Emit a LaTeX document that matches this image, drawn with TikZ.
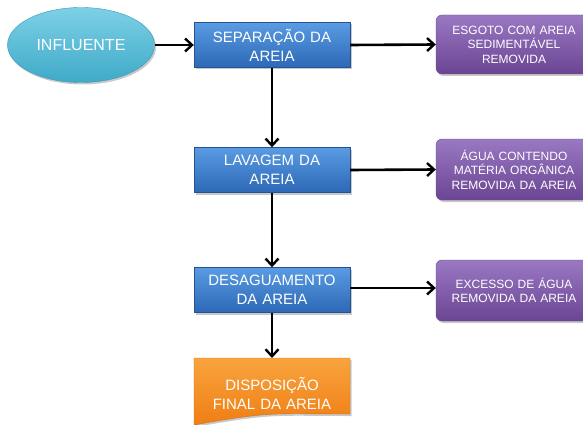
\documentclass[tikz,border=0pt]{standalone}
\usepackage{fontspec}
\setmainfont{Liberation Sans}
\usetikzlibrary{arrows.meta,shadows,shapes.geometric}
\definecolor{cyanTop}{HTML}{7DD0E6}
\definecolor{cyanBot}{HTML}{3FAAC8}
\definecolor{blueTop}{HTML}{5A9BE3}
\definecolor{blueBot}{HTML}{2C68B5}
\definecolor{purpTop}{HTML}{9A78C2}
\definecolor{purpBot}{HTML}{6A4593}
\definecolor{orTop}{HTML}{FAA43E}
\definecolor{orBot}{HTML}{EE7E14}
\tikzset{
  flowarrow/.style={line width=2.6pt,-{Straight Barb[length=7pt,width=13pt,line width=2.4pt]}},
  softshadow/.style={drop shadow={shadow xshift=1.5pt,shadow yshift=-2pt,opacity=0.35,fill=black!60}},
  bluebox/.style={rectangle,minimum width=156pt,minimum height=45pt,text width=150pt,align=center,
    top color=blueTop,bottom color=blueBot,draw=blueBot!80!black,line width=0.4pt,text=white,
    font=\fontsize{15}{19}\selectfont,softshadow,inner sep=0pt},
  purpbox/.style={rectangle,rounded corners=6pt,minimum width=156pt,minimum height=60pt,text width=150pt,align=center,
    top color=purpTop,bottom color=purpBot,draw=purpBot,line width=0.4pt,text=white,
    font=\fontsize{12}{14.5}\selectfont,softshadow,inner sep=0pt},
  cyanell/.style={ellipse,minimum width=147pt,minimum height=75pt,inner sep=0pt,
    top color=cyanTop,bottom color=cyanBot,draw=cyanBot!90!black,line width=0.4pt,text=white,
    font=\fontsize{16}{19}\selectfont,softshadow},
  doctext/.style={rectangle,minimum width=156pt,minimum height=70pt,text width=150pt,align=center,
    text=white,font=\fontsize{15}{19}\selectfont,inner sep=0pt}
}
\begin{document}
\begin{tikzpicture}[x=1pt,y=-1pt]
\useasboundingbox (0,0) rectangle (583,425);
\clip (0,0) rectangle (583,425);
\fill[white] (0,0) rectangle (583,425);

\node[cyanell] (infl) at (81,45) {INFLUENTE};
\node[bluebox] (sep) at (272,45) {SEPARAÇÃO DA\\AREIA};
\node[bluebox] (lav) at (272,170) {LAVAGEM DA\\AREIA};
\node[bluebox] (des) at (272,290) {DESAGUAMENTO\\DA AREIA};

\node[purpbox,minimum height=59pt] (p1) at (514,44.5) {ESGOTO COM AREIA\\SEDIMENTÁVEL\\REMOVIDA};
\node[purpbox,minimum height=61pt] (p2) at (514,169.5) {ÁGUA CONTENDO\\MATÉRIA ORGÂNICA\\REMOVIDA DA AREIA};
\node[purpbox,minimum height=61pt] (p3) at (514,290.5) {EXCESSO DE ÁGUA\\REMOVIDA DA AREIA};

% document shape for final disposal
\coordinate (dtl) at (194,358);
\fill[black!60,opacity=0.35] ([shift={(1.5,2)}]dtl) -- ++(156,0) -- ++(0,56)
  .. controls +(-78,0) and +(78,-14) .. ++(-156,11) -- cycle;
\path[top color=orTop,bottom color=orBot,draw=orBot!90!black,line width=0.4pt]
  (dtl) -- ++(156,0) -- ++(0,56)
  .. controls +(-78,0) and +(78,-14) .. ++(-156,11) -- cycle;
\node[doctext,anchor=north] (disp) at (272,358) {\raisebox{4pt}{\parbox{150pt}{\centering DISPOSIÇÃO\\FINAL DA AREIA}}};

\draw[flowarrow] (infl.east) -- (sep.west);
\draw[flowarrow] (sep.east) -- (p1.west);
\draw[flowarrow] (lav.east) -- (p2.west);
\draw[flowarrow] ([yshift=2pt]des.east) -- ([yshift=2pt]des.east -| p3.west);
\draw[flowarrow] (sep.south) -- (lav.north);
\draw[flowarrow] (lav.south) -- (des.north);
\draw[flowarrow] (des.south) -- (disp.north);
\end{tikzpicture}
\end{document}
